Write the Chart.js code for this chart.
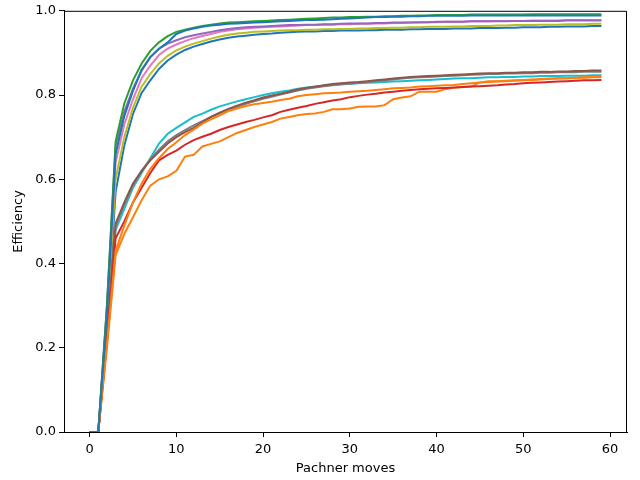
<!DOCTYPE html>
<html>
<head>
<meta charset="utf-8">
<script src="https://cdn.jsdelivr.net/npm/chart.js@4/dist/chart.umd.min.js"></script>
<style>
  html, body { margin: 0; padding: 0; background: #fff; }
  #wrap { width: 640px; height: 480px; }
</style>
</head>
<body>
<div id="wrap"><canvas id="grafico"></canvas></div>
<script>
// ---------------------------------------------- DATOS ----------------------------------------------

const moves = [
    0, 1, 2, 3, 4, 5, 6, 7, 8, 9,
    10, 11, 12, 13, 14, 15, 16, 17, 18, 19,
    20, 21, 22, 23, 24, 25, 26, 27, 28, 29,
    30, 31, 32, 33, 34, 35, 36, 37, 38, 39,
    40, 41, 42, 43, 44, 45, 46, 47, 48, 49,
    50, 51, 52, 53, 54, 55, 56, 57, 58, 59
];

const xTicks = [0, 10, 20, 30, 40, 50, 60];
const yTicks = [0.0, 0.2, 0.4, 0.6, 0.8, 1.0];

const run0 = [
    0, 0, 0.28, 0.66, 0.75, 0.81, 0.86, 0.89, 0.91, 0.925,
    0.945, 0.953, 0.958, 0.962, 0.965, 0.967, 0.969, 0.970, 0.971, 0.972,
    0.973, 0.974, 0.975, 0.976, 0.977, 0.978, 0.978, 0.979, 0.980, 0.981,
    0.982, 0.983, 0.984, 0.985, 0.985, 0.986, 0.986, 0.987, 0.987, 0.988,
    0.988, 0.988, 0.988, 0.988, 0.989, 0.989, 0.989, 0.989, 0.989, 0.989,
    0.989, 0.989, 0.989, 0.989, 0.989, 0.989, 0.989, 0.989, 0.989, 0.989
];
const run1 = [
    0, 0, 0.21, 0.43, 0.49, 0.545, 0.59, 0.625, 0.65, 0.672,
    0.688, 0.705, 0.718, 0.732, 0.742, 0.752, 0.762, 0.768, 0.774, 0.778,
    0.781, 0.784, 0.788, 0.791, 0.797, 0.800, 0.802, 0.804, 0.805, 0.806,
    0.808, 0.809, 0.810, 0.812, 0.814, 0.816, 0.817, 0.818, 0.820, 0.821,
    0.822, 0.823, 0.824, 0.826, 0.828, 0.830, 0.831, 0.832, 0.833, 0.834,
    0.835, 0.836, 0.837, 0.838, 0.839, 0.840, 0.841, 0.842, 0.843, 0.844
];
const run2 = [
    0, 0, 0.30, 0.69, 0.78, 0.835, 0.875, 0.905, 0.925, 0.94,
    0.950, 0.955, 0.960, 0.964, 0.967, 0.970, 0.972, 0.973, 0.974, 0.975,
    0.976, 0.977, 0.978, 0.979, 0.980, 0.981, 0.982, 0.983, 0.984, 0.984,
    0.985, 0.985, 0.986, 0.986, 0.987, 0.987, 0.988, 0.988, 0.989, 0.989,
    0.990, 0.990, 0.990, 0.990, 0.991, 0.991, 0.991, 0.991, 0.991, 0.991,
    0.991, 0.992, 0.992, 0.992, 0.992, 0.992, 0.992, 0.992, 0.992, 0.992
];
const run3 = [
    0, 0, 0.22, 0.46, 0.50, 0.545, 0.58, 0.615, 0.645, 0.658,
    0.668, 0.682, 0.693, 0.701, 0.708, 0.717, 0.724, 0.730, 0.736, 0.741,
    0.747, 0.752, 0.760, 0.765, 0.770, 0.774, 0.779, 0.783, 0.787, 0.790,
    0.795, 0.798, 0.801, 0.803, 0.806, 0.808, 0.810, 0.812, 0.814, 0.815,
    0.816, 0.817, 0.818, 0.819, 0.820, 0.821, 0.822, 0.823, 0.825, 0.826,
    0.828, 0.829, 0.830, 0.831, 0.832, 0.833, 0.834, 0.835, 0.835, 0.836
];
const run4 = [
    0, 0, 0.30, 0.68, 0.76, 0.815, 0.858, 0.89, 0.91, 0.922,
    0.930, 0.937, 0.942, 0.946, 0.950, 0.954, 0.957, 0.959, 0.961, 0.962,
    0.963, 0.964, 0.965, 0.966, 0.966, 0.967, 0.967, 0.968, 0.968, 0.969,
    0.970, 0.970, 0.970, 0.971, 0.971, 0.972, 0.972, 0.972, 0.973, 0.973,
    0.974, 0.974, 0.974, 0.974, 0.975, 0.975, 0.975, 0.975, 0.975, 0.976,
    0.976, 0.976, 0.976, 0.976, 0.976, 0.977, 0.977, 0.977, 0.977, 0.977
];
const run5 = [
    0, 0, 0.23, 0.495, 0.545, 0.59, 0.62, 0.645, 0.665, 0.685,
    0.700, 0.712, 0.722, 0.735, 0.748, 0.758, 0.767, 0.775, 0.782, 0.788,
    0.794, 0.799, 0.803, 0.808, 0.813, 0.817, 0.820, 0.823, 0.826, 0.828,
    0.830, 0.831, 0.833, 0.835, 0.837, 0.839, 0.841, 0.843, 0.844, 0.845,
    0.846, 0.847, 0.848, 0.849, 0.850, 0.851, 0.852, 0.852, 0.853, 0.853,
    0.854, 0.854, 0.855, 0.855, 0.856, 0.856, 0.857, 0.857, 0.858, 0.858
];
const run6 = [
    0, 0, 0.29, 0.64, 0.73, 0.79, 0.84, 0.87, 0.895, 0.91,
    0.920, 0.928, 0.935, 0.940, 0.945, 0.950, 0.953, 0.956, 0.958, 0.960,
    0.961, 0.962, 0.963, 0.964, 0.965, 0.966, 0.966, 0.967, 0.967, 0.968,
    0.968, 0.969, 0.969, 0.970, 0.970, 0.971, 0.971, 0.972, 0.972, 0.973,
    0.973, 0.974, 0.974, 0.974, 0.975, 0.975, 0.975, 0.976, 0.976, 0.976,
    0.976, 0.977, 0.977, 0.977, 0.977, 0.978, 0.978, 0.978, 0.978, 0.978
];
const run7 = [
    0, 0, 0.23, 0.49, 0.54, 0.585, 0.62, 0.648, 0.67, 0.69,
    0.705, 0.717, 0.728, 0.738, 0.748, 0.757, 0.765, 0.772, 0.779, 0.785,
    0.791, 0.796, 0.801, 0.806, 0.811, 0.815, 0.818, 0.821, 0.823, 0.825,
    0.827, 0.829, 0.831, 0.833, 0.835, 0.837, 0.839, 0.841, 0.842, 0.843,
    0.844, 0.845, 0.846, 0.847, 0.848, 0.849, 0.850, 0.850, 0.851, 0.851,
    0.852, 0.852, 0.853, 0.853, 0.854, 0.854, 0.854, 0.855, 0.855, 0.855
];
const run8 = [
    0, 0, 0.27, 0.60, 0.70, 0.77, 0.82, 0.85, 0.875, 0.893,
    0.906, 0.915, 0.922, 0.928, 0.934, 0.939, 0.943, 0.946, 0.948, 0.950,
    0.951, 0.952, 0.953, 0.954, 0.954, 0.955, 0.955, 0.956, 0.956, 0.957,
    0.957, 0.958, 0.958, 0.959, 0.959, 0.960, 0.960, 0.961, 0.961, 0.962,
    0.962, 0.962, 0.963, 0.963, 0.964, 0.964, 0.964, 0.965, 0.965, 0.966,
    0.966, 0.966, 0.967, 0.967, 0.967, 0.968, 0.968, 0.968, 0.969, 0.969
];
const run9 = [
    0, 0, 0.24, 0.48, 0.53, 0.58, 0.615, 0.65, 0.685, 0.708,
    0.722, 0.735, 0.748, 0.756, 0.765, 0.773, 0.779, 0.785, 0.790, 0.795,
    0.800, 0.804, 0.808, 0.811, 0.815, 0.818, 0.820, 0.822, 0.824, 0.826,
    0.827, 0.828, 0.829, 0.830, 0.831, 0.832, 0.833, 0.834, 0.835, 0.836,
    0.837, 0.838, 0.839, 0.840, 0.840, 0.841, 0.842, 0.842, 0.843, 0.843,
    0.844, 0.844, 0.845, 0.845, 0.845, 0.846, 0.846, 0.846, 0.847, 0.847
];
const run10 = [
    0, 0, 0.25, 0.57, 0.68, 0.755, 0.805, 0.835, 0.862, 0.882,
    0.896, 0.907, 0.915, 0.921, 0.927, 0.932, 0.936, 0.939, 0.941, 0.943,
    0.945, 0.946, 0.948, 0.949, 0.950, 0.951, 0.951, 0.952, 0.952, 0.953,
    0.953, 0.953, 0.954, 0.954, 0.955, 0.955, 0.955, 0.956, 0.956, 0.957,
    0.957, 0.957, 0.958, 0.958, 0.958, 0.959, 0.959, 0.959, 0.960, 0.960,
    0.961, 0.961, 0.961, 0.962, 0.962, 0.963, 0.963, 0.963, 0.964, 0.964
];
const run11 = [
    0, 0, 0.20, 0.42, 0.47, 0.51, 0.55, 0.585, 0.60, 0.607,
    0.620, 0.654, 0.658, 0.678, 0.684, 0.690, 0.700, 0.710, 0.717, 0.724,
    0.730, 0.736, 0.744, 0.748, 0.752, 0.755, 0.756, 0.760, 0.766, 0.766,
    0.768, 0.772, 0.773, 0.773, 0.776, 0.790, 0.794, 0.797, 0.808, 0.808,
    0.808, 0.814, 0.817, 0.819, 0.820, 0.830, 0.833, 0.833, 0.834, 0.835,
    0.836, 0.837, 0.838, 0.839, 0.840, 0.840, 0.841, 0.841, 0.842, 0.842
];

const runs = [run0, run1, run2, run3, run4, run5, run6, run7, run8, run9, run10, run11];

// colores tab10 de matplotlib
const colores = [
    '#1f77b4', '#ff7f0e', '#2ca02c', '#d62728', '#9467bd',
    '#8c564b', '#e377c2', '#7f7f7f', '#bcbd22', '#17becf'
];

// ---------------------------------------------- GRAFICO ----------------------------------------------

const datasets = runs.map((serie, i) => ({
    data: serie.map((v, j) => ({ x: moves[j], y: v })),
    borderColor: colores[i % colores.length],
    backgroundColor: colores[i % colores.length],
    borderWidth: 2,
    pointRadius: 0,
    tension: 0,
    fill: false
}));

// solo borde superior y derecho, los otros los pintan los ejes
const marco = {
    id: 'marco',
    afterDraw(chart) {
        const { ctx, chartArea: a } = chart;
        ctx.save();
        ctx.strokeStyle = '#000';
        ctx.lineWidth = 1;
        ctx.beginPath();
        ctx.moveTo(a.left, a.top + 0.5);
        ctx.lineTo(a.right - 0.5, a.top + 0.5);
        ctx.lineTo(a.right - 0.5, a.bottom);
        ctx.stroke();
        ctx.restore();
    }
};

const fuente = { family: 'DejaVu Sans', size: 13 };

const config = {
    type: 'line',
    data: { datasets: datasets },
    options: {
        responsive: false,
        animation: false,
        layout: { padding: { top: 10, right: 13, left: 0, bottom: 0 } },
        plugins: { legend: { display: false }, tooltip: { enabled: false } },
        scales: {
            x: {
                type: 'linear',
                min: -2.95,
                max: 61.95,
                afterBuildTicks: s => { s.ticks = xTicks.map(v => ({ value: v })); },
                afterFit: s => { s.height = 48; },
                grid: { drawOnChartArea: false, drawTicks: true, tickLength: 5, color: '#000' },
                border: { display: true, color: '#000', width: 1 },
                ticks: { color: '#000', font: fuente, padding: 5, maxRotation: 0 },
                title: { display: true, text: 'Pachner moves', color: '#000', font: fuente, padding: { top: 0, bottom: 4 } }
            },
            y: {
                min: 0,
                max: 1,
                afterBuildTicks: s => { s.ticks = yTicks.map(v => ({ value: v })); },
                afterFit: s => { s.width = 64; },
                grid: { drawOnChartArea: false, drawTicks: true, tickLength: 5, color: '#000' },
                border: { display: true, color: '#000', width: 1 },
                ticks: { color: '#000', font: fuente, padding: 3, callback: v => v.toFixed(1) },
                title: { display: true, text: 'Efficiency', color: '#000', font: fuente, padding: { top: 11, bottom: 4 } }
            }
        }
    },
    plugins: [marco]
};

const canvas = document.getElementById('grafico');
canvas.width = 640;
canvas.height = 480;
var graficoEficiencia = new Chart(canvas, config);
</script>
</body>
</html>
